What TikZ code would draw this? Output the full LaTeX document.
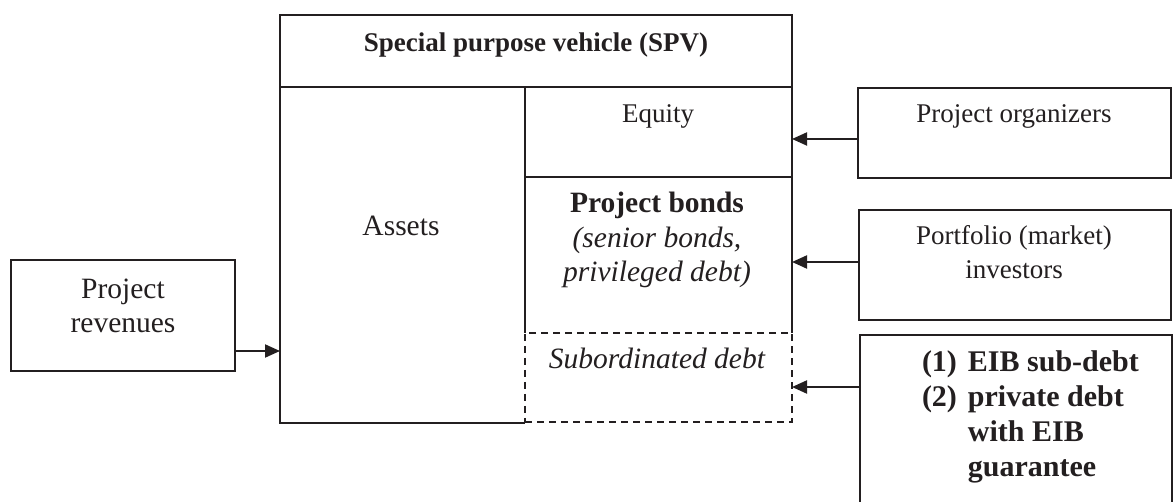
\documentclass[tikz,border=0pt]{standalone}
\usepackage{fontspec}
\setmainfont{Liberation Serif}
\usetikzlibrary{arrows.meta}
\definecolor{ink}{HTML}{231F20}
\begin{document}
\begin{tikzpicture}[x=1pt,y=-1pt,
  line/.style={draw=ink,line width=2pt},
  region/.style={inner sep=0pt,outer sep=0pt},
  framed/.style={region,line},
  dashframe/.style={region,line,dash pattern=on 7pt off 5pt},
  arr/.style={line,-{Triangle[length=15pt,width=13pt]}},
  txt/.style={inner sep=0pt,outer sep=0pt,text=ink,anchor=base,align=center},
  big/.style={font=\fontsize{29.5}{34.5}\selectfont},
  small/.style={font=\fontsize{27}{34.5}\selectfont}]
\clip (0,0) rectangle (1173,502);
\fill[white] (0,0) rectangle (1173,502);

% SPV balance sheet
\node[framed,minimum width=512pt,minimum height=72pt] (hdr) at (536,51) {};
\node[region,minimum width=245pt,minimum height=336pt] (assets) at (402.5,255) {};
\draw[line] (assets.north west) -- (assets.south west) -- (assets.south east);
\node[framed,minimum width=267pt,minimum height=90pt] (eq) at (658.5,132) {};
\node[region,minimum width=267pt,minimum height=156pt] (bonds) at (658.5,255) {};
\draw[line] (bonds.north west) -- (bonds.south west)
            (bonds.north east) -- (bonds.south east);
\node[dashframe,minimum width=267pt,minimum height=89pt] (sub) at (658.5,377.5) {};

% funding sources and revenues
\node[framed,minimum width=313pt,minimum height=90pt] (org) at (1014.5,133) {};
\node[framed,minimum width=312pt,minimum height=110pt] (pf) at (1015,265) {};
\node[framed,minimum width=312pt,minimum height=185pt] (eib) at (1016,427.5) {};
\node[framed,minimum width=224pt,minimum height=111pt] (rev) at (123,315.5) {};

% labels (multi-line labels sit on the baseline of their last line)
\node[txt,small] (hdrtxt) at (536,52) {\bfseries Special purpose vehicle (SPV)};
\node[txt,big] (assetstxt) at (401,236) {Assets};
\node[txt,small] (eqtxt) at (658,123) {Equity};
\node[txt,big] (bondstxt) at (657,282) {\bfseries Project bonds\\\itshape(senior bonds,\\\itshape privileged debt)};
\node[txt,big] (subtxt) at (657,369) {\itshape Subordinated debt};
\node[txt,small] (orgtxt) at (1014,123) {Project organizers};
\node[txt,small] (pftxt) at (1014,279) {Portfolio (market)\\investors};
\node[txt,big] (revtxt) at (123,333) {Project\\revenues};
\node[txt,anchor=base west] (eibtxt) at (922,372) {\fontsize{30}{34.7}\selectfont\bfseries
  \begin{tabular}[t]{@{}l@{\hspace{11pt}}l@{}}
  (1) & EIB sub-debt\\
  (2) & private debt\\
      & with EIB\\
      & guarantee
  \end{tabular}};

% flows
\draw[arr] ([yshift=-6pt]org.west) -- ([yshift=-6pt]org.west -| eq.east);
\draw[arr] ([yshift=3pt]pf.west) -- ([yshift=3pt]pf.west -| bonds.east);
\draw[arr] (eib.west |- 0,387) -- (sub.east |- 0,387);
\draw[arr] (rev.east |- 0,351) -- (assets.west |- 0,351);
\end{tikzpicture}
\end{document}
